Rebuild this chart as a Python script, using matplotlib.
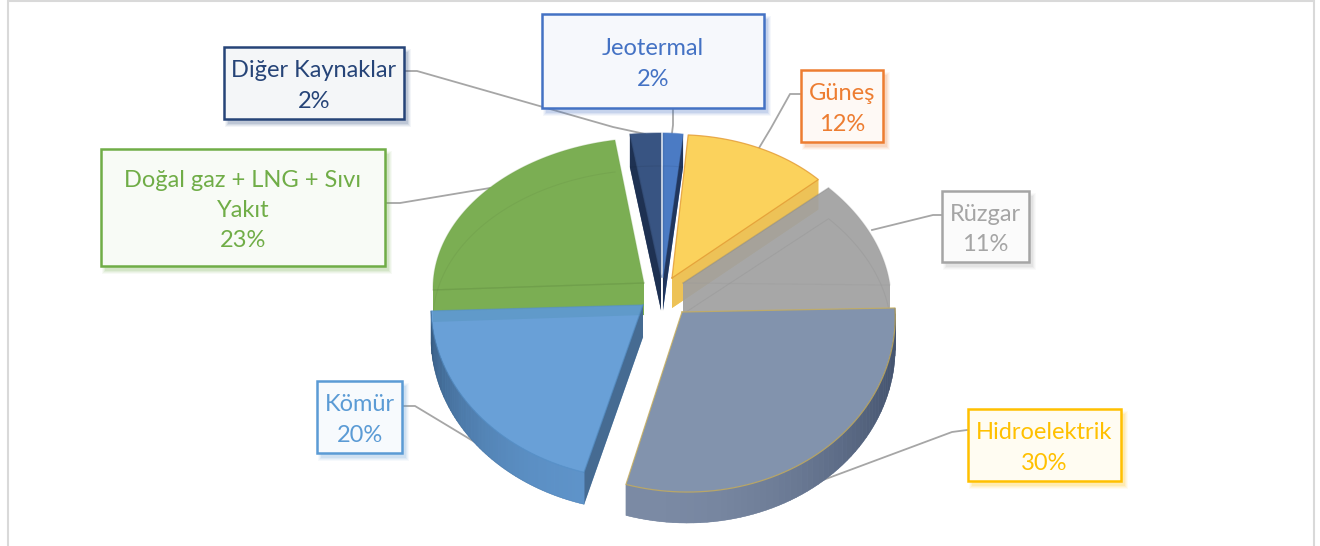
import numpy as np
import matplotlib
matplotlib.use('Agg')
import matplotlib.pyplot as plt
from matplotlib.colors import to_rgb
from matplotlib.patches import Rectangle

plt.rcParams['font.family'] = ['Lato', 'DejaVu Sans']

# clockwise from twelve o'clock
categories = ['Jeotermal', 'Güneş', 'Rüzgar', 'Hidroelektrik', 'Kömür', 'Doğal gaz + LNG + Sıvı\nYakıt', 'Diğer Kaynaklar']
shares = [2, 12, 11, 30, 20, 23, 2]

face_colors = ['#4B7BC4', '#FBD25C', '#A0A0A0', '#8293AD', '#5E99D4', '#7BAE53', '#385482']
wall_colors = ['#1F3358', '#EDC257', '#A0A0A0', '#6F7F99', '#44698F', '#74A44F', '#1D2F50']
edge_colors = ['#4F7EC6', '#E39A33', '#969696', '#C8AE5A', '#5590C8', '#6C9E48', '#3B5785']
rim_dark = ['#1F3358', '#D9A93E', '#8C8C8C', '#465570', '#2D4C6E', '#5F8A40', '#1D2F50']
rim_light = ['#4F7EC6', '#EDC257', '#A0A0A0', '#7B8AA4', '#5E93C9', '#74A44F', '#3B5785']
label_colors = ['#4472C4', '#ED7D31', '#A5A5A5', '#FFC000', '#5B9BD5', '#70AD47', '#264478']

# one exploded view per slice, the source is a perspective 3d pie
tip_x = [663, 672, 683, 682, 643, 644, 661]
tip_y = [277, 278, 283, 312, 305, 283, 277]
radius_x = [160, 197, 207, 213, 212, 211, 248]
radius_y = [144, 143, 152, 180, 174, 145, 144]
shear = [0, 0.06, 0.144, 0.057, 0.04, 0.018, 0]
tilt = [0, -0.048, 0.01, -0.019, -0.028, -0.033, 0]
depth = [33, 30, 31, 31, 32, 32, 33]
body_alpha = [1.0, 1.0, 0.92, 1.0, 0.93, 1.0, 1.0]
wall_alpha = [0.95, 0.95, 0.0, 0.95, 0.95, 0.0, 0.95]
edge_alpha = [0.5, 0.8, 0.25, 0.8, 0.6, 0.25, 0.5]
inner_alpha = [0.10, 0.0, 0.07, 0.0, 0.07, 0.07, 0.10]
draw_order = [6, 0, 5, 1, 2, 4, 3]

# box left, top, right, bottom
label_boxes = [(542, 14, 764, 108), (801, 70, 883, 142), (942, 191, 1029, 262), (968, 409, 1121, 481),
               (317, 381, 402, 453), (101, 149, 385, 266), (224, 47, 404, 119)]
leaders = [
    [(673, 108), (673, 125), (672, 133)],
    [(800, 94), (790, 94), (771, 128), (759, 148)],
    [(942, 215), (933, 215), (872, 230)],
    [(967, 430), (952, 432), (815, 483)],
    [(402, 406), (415, 406), (478, 444)],
    [(385, 203), (400, 203), (490, 188)],
    [(405, 71), (417, 71), (613, 127), (645, 134)],
]


def project(i, theta):
    x = radius_x[i] * np.sin(theta)
    y = -radius_y[i] * np.cos(theta)
    return tip_x[i] + x + shear[i] * y, tip_y[i] + y + tilt[i] * x


def convex_hull(points):
    pts = sorted(set(map(tuple, points)))

    def half(seq):
        out = []
        for p in seq:
            while len(out) > 1 and (out[-1][0] - out[-2][0]) * (p[1] - out[-2][1]) - (out[-1][1] - out[-2][1]) * (p[0] - out[-2][0]) <= 0:
                out.pop()
            out.append(p)
        return out[:-1]

    return np.array(half(pts) + half(pts[::-1]))


def mix(c0, c1, f):
    return tuple((1 - f) * np.array(to_rgb(c0)) + f * np.array(to_rgb(c1)))


def draw_slice(ax, i, start, stop):
    theta = np.linspace(start, stop, 60)
    ax_, ay_ = project(i, theta)
    tip = (tip_x[i], tip_y[i])
    d = depth[i]
    top = np.vstack([[tip], np.column_stack([ax_, ay_])])
    bottom = top + [0, d]

    # body, one path so the overlap with the neighbour stays see through
    hull = convex_hull(np.vstack([top, bottom]))
    ax.fill(hull[:, 0], hull[:, 1], color=face_colors[i], alpha=body_alpha[i], lw=0, zorder=3)

    # radial walls that face the viewer
    mid = np.array([ax_[30], ay_[30]]) - tip
    for k in (0, -1):
        edge = np.array([ax_[k], ay_[k]]) - tip
        side_mid = edge[0] * mid[1] - edge[1] * mid[0]
        side_down = edge[0] * d
        if side_mid * side_down < 0 and wall_alpha[i] > 0:
            wall = np.array([tip, (ax_[k], ay_[k]), (ax_[k], ay_[k] + d), (tip[0], tip[1] + d)])
            ax.fill(wall[:, 0], wall[:, 1], color=wall_colors[i], alpha=wall_alpha[i], lw=0, zorder=3)

    # outer rim, only where the arc faces front
    for t0, t1 in zip(theta[:-1], theta[1:]):
        tm = 0.5 * (t0 + t1)
        if np.cos(tm) >= 0.0:
            continue
        f = max(0.0, np.cos(tm - np.radians(195))) ** 1.2
        x0, y0 = project(i, t0)
        x1, y1 = project(i, t1)
        ax.fill([x0, x1, x1, x0], [y0, y1, y1 + d, y0 + d], color=mix(rim_dark[i], rim_light[i], f), lw=0.3, zorder=3)

    # lines of the far face seen through the body
    if inner_alpha[i] > 0:
        ax.plot(bottom[:, 0], bottom[:, 1], color='black', lw=0.8, alpha=inner_alpha[i] * 0.6, zorder=3)
        ax.plot(top[:2, 0], top[:2, 1], color='black', lw=1.0, alpha=inner_alpha[i], zorder=3)
    closed = np.vstack([top, top[:1]])
    ax.plot(closed[:, 0], closed[:, 1], color=edge_colors[i], lw=0.9, alpha=edge_alpha[i], zorder=3)


def draw_label(ax, i):
    left, top, right, bottom = label_boxes[i]
    color = label_colors[i]
    w, h = right - left, bottom - top
    # soft drop shadow
    for grow, a in zip((6, 4, 2, 0), (0.05, 0.07, 0.09, 0.12)):
        ax.add_patch(Rectangle((left + 4 - grow / 2, top + 5 - grow / 2), w + grow, h + grow,
                               fc=color, ec='none', alpha=a, zorder=5))
    ax.add_patch(Rectangle((left, top), w, h, fc=mix('white', color, 0.05), ec=color, lw=1.8, zorder=6))
    text = '{}\n{}%'.format(categories[i], shares[i])
    ax.text(0.5 * (left + right), 0.5 * (top + bottom) + 3, text, color=color, fontsize=17, ha='center', va='center',
            linespacing=1.55, zorder=7)


fig = plt.figure(figsize=(13.2, 5.46), dpi=100)
ax = fig.add_axes([0, 0, 1, 1])
ax.set_xlim(0, 1320)
ax.set_ylim(546, 0)
ax.axis('off')

ax.add_patch(Rectangle((8, 1), 1306, 560, fc='white', ec='#D9D9D9', lw=1.5, zorder=0))

for path in leaders:
    xs, ys = zip(*path)
    ax.plot(xs, ys, color='#A6A6A6', lw=1.3, zorder=2)

edges = np.radians(np.cumsum([0] + shares) * 360.0 / sum(shares))
for i in draw_order:
    draw_slice(ax, i, edges[i], edges[i + 1])

for i in range(len(shares)):
    draw_label(ax, i)

fig.savefig('out.png', dpi=100)
plt.close(fig)
